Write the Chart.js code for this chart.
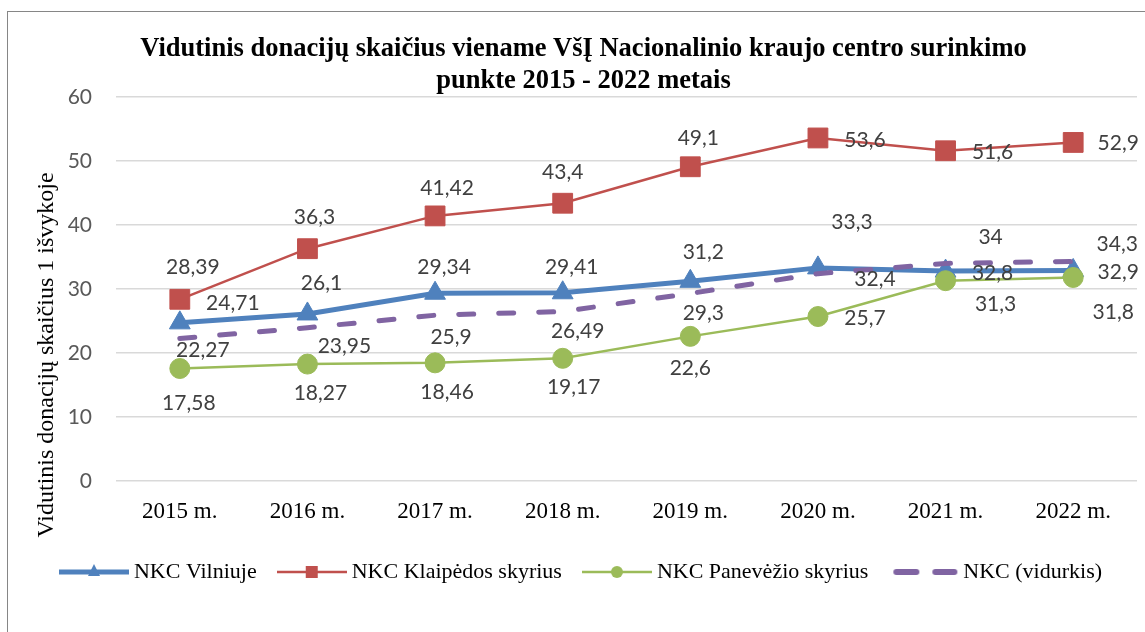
<!DOCTYPE html>
<html>
<head>
<meta charset="utf-8">
<script src="https://cdn.jsdelivr.net/npm/chart.js@4.4.0/dist/chart.umd.min.js"></script>
<style>
  body { margin: 0; background: #fff; overflow: hidden; }
  canvas { display: block; }
</style>
</head>
<body>
<canvas id="chart" width="1145" height="632"></canvas>
<script>
// chart data
const years = ['2015 m.', '2016 m.', '2017 m.', '2018 m.', '2019 m.', '2020 m.', '2021 m.', '2022 m.'];
const seriesNames = ['NKC Vilniuje', 'NKC Klaipėdos skyrius', 'NKC Panevėžio skyrius', 'NKC (vidurkis)'];
const vilnius = [24.71, 26.1, 29.34, 29.41, 31.2, 33.3, 32.8, 32.9];
const klaipeda = [28.39, 36.3, 41.42, 43.4, 49.1, 53.6, 51.6, 52.9];
const panevezys = [17.58, 18.27, 18.46, 19.17, 22.6, 25.7, 31.3, 31.8];
const vidurkis = [22.27, 23.95, 25.9, 26.49, 29.3, 32.4, 34, 34.3];
const yTicks = [0, 10, 20, 30, 40, 50, 60];

// where each value label sits relative to its point (dx, dy in px)
const labelOffsets = [
    [[53, -20], [14, -31], [9, -26], [9, -26], [13, -29], [34, -46], [47, 2], [45, 2]],
    [[13, -32], [7, -31], [12, -28], [0, -31], [8, -29], [47, 2], [47, 1], [45, 1]],
    [[9, 35], [13, 29], [12, 29], [11, 29], [0, 32], [47, 2], [50, 24], [40, 35]],
    [[23, 12], [37, 19], [16, 22], [15, 20], [13, 20], [57, 6], [45, -26], [44, -17]]
];

const colors = ['#4F81BD', '#C0504D', '#9BBB59', '#8064A2'];

function fmt(v) {
    return String(v).replace('.', ',');
}

function legendSymbol(idx) {   // small line + marker picture for the legend
    const c = document.createElement('canvas');
    c.width = 70; c.height = 24;
    const g = c.getContext('2d');
    const col = colors[idx];
    g.strokeStyle = col; g.fillStyle = col;
    if (idx === 3) {
        g.lineWidth = 6; g.lineCap = 'round';
        g.beginPath(); g.moveTo(8, 12); g.lineTo(28, 12); g.stroke();
        g.beginPath(); g.moveTo(47, 12); g.lineTo(66, 12); g.stroke();
        return c;
    }
    g.lineWidth = idx === 0 ? 5 : 2.5;
    g.beginPath(); g.moveTo(0, 12); g.lineTo(70, 12); g.stroke();
    g.beginPath();
    if (idx === 0) {
        g.moveTo(35, 4); g.lineTo(41, 16); g.lineTo(29, 16); g.closePath();
    } else if (idx === 1) {
        g.rect(29, 6, 12, 12);
    } else {
        g.arc(35, 12, 6, 0, Math.PI * 2);
    }
    g.fill();
    return c;
}

const valueLabels = {
    id: 'valueLabels',
    afterDatasetsDraw(chart) {
        const ctx = chart.ctx;
        ctx.save();
        ctx.font = '21px Lato';
        ctx.fillStyle = '#404040';
        ctx.textAlign = 'center';
        ctx.textBaseline = 'middle';
        chart.data.datasets.forEach((ds, i) => {
            const meta = chart.getDatasetMeta(i);
            meta.data.forEach((pt, j) => {
                const off = labelOffsets[i][j];
                ctx.fillText(fmt(ds.data[j]), pt.x + off[0], pt.y + off[1]);
            });
        });
        ctx.restore();
    }
};

const frameAndTitle = {
    id: 'frameAndTitle',
    beforeDraw(chart) {
        const ctx = chart.ctx;
        ctx.save();
        ctx.fillStyle = '#fff';
        ctx.fillRect(0, 0, chart.width, chart.height);
        ctx.strokeStyle = '#868686';
        ctx.lineWidth = 1;
        ctx.strokeRect(7.5, 11.5, 1300, 800);
        ctx.restore();
    },
    afterDraw(chart) {   // y axis title, placed as in the original
        const ctx = chart.ctx;
        ctx.save();
        ctx.translate(47, 355);
        ctx.rotate(-Math.PI / 2);
        ctx.font = '24px "Liberation Serif"';
        ctx.fillStyle = '#000';
        ctx.textAlign = 'center';
        ctx.textBaseline = 'middle';
        ctx.fillText('Vidutinis donacijų skaičius 1 išvykoje', 0, 0);
        ctx.restore();
    }
};

window.initializeChart = function(ctx) {
    return new Chart(ctx, {
        type: 'line',
        data: {
            labels: years,
            datasets: [{
                label: seriesNames[0],
                data: vilnius,
                order: 4,
                borderColor: colors[0],
                backgroundColor: colors[0],
                borderWidth: 5,
                pointStyle: 'triangle',
                pointRadius: 12,
                pointBorderWidth: 1,
                pointBackgroundColor: colors[0],
                pointBorderColor: colors[0]
            }, {
                label: seriesNames[1],
                data: klaipeda,
                order: 3,
                borderColor: colors[1],
                backgroundColor: colors[1],
                borderWidth: 2.5,
                pointStyle: 'rect',
                pointRadius: 14,
                pointBorderWidth: 1,
                pointBackgroundColor: colors[1],
                pointBorderColor: colors[1]
            }, {
                label: seriesNames[2],
                data: panevezys,
                order: 2,
                borderColor: colors[2],
                backgroundColor: colors[2],
                borderWidth: 2.5,
                pointStyle: 'circle',
                pointRadius: 10,
                pointBorderWidth: 1,
                pointBackgroundColor: colors[2],
                pointBorderColor: colors[2]
            }, {
                label: seriesNames[3],
                data: vidurkis,
                order: 1,
                borderColor: colors[3],
                backgroundColor: colors[3],
                borderWidth: 5,
                borderDash: [15, 25],
                borderCapStyle: 'round',
                pointRadius: 0
            }]
        },
        options: {
            responsive: false,
            animation: false,
            events: [],
            layout: { autoPadding: false, padding: { left: 30, right: 8, top: 0, bottom: 39 } },
            plugins: {
                title: {
                    display: true,
                    text: ['Vidutinis donacijų skaičius viename VšĮ Nacionalinio kraujo centro surinkimo',
                           'punkte 2015 - 2022 metais'],
                    color: '#000',
                    font: { family: '"Liberation Serif"', size: 26.5, weight: 'bold', lineHeight: '32px' },
                    padding: { top: 33, bottom: 0 }
                },
                legend: {
                    position: 'bottom',
                    labels: {
                        usePointStyle: true,
                        pointStyleWidth: 58,
                        padding: 26,
                        color: '#000',
                        font: { family: '"Liberation Serif"', size: 22 },
                        generateLabels: function() {
                            return seriesNames.map((name, i) => ({
                                text: name,
                                pointStyle: legendSymbol(i),
                                fillStyle: colors[i],
                                strokeStyle: colors[i],
                                lineWidth: 0,
                                fontColor: '#000',
                                datasetIndex: i,
                                hidden: false
                            }));
                        }
                    }
                },
                tooltip: { enabled: false }
            },
            scales: {
                x: {
                    offset: true,
                    grid: { display: false },
                    border: { display: false },
                    ticks: {
                        color: '#000',
                        padding: 9,
                        font: { family: '"Liberation Serif"', size: 23 }
                    },
                    afterFit: function(scale) { scale.height = 54; }
                },
                y: {
                    min: yTicks[0],
                    max: yTicks[yTicks.length - 1],
                    grid: { color: '#d9d9d9', lineWidth: 1.5, drawTicks: false },
                    border: { display: false },
                    afterBuildTicks: function(scale) {
                        scale.ticks = yTicks.map(v => ({ value: v }));
                    },
                    ticks: {
                        color: '#595959',
                        padding: 24,
                        font: { family: 'Lato', size: 21 }
                    },
                    afterFit: function(scale) { scale.width = 86; }
                }
            }
        },
        plugins: [frameAndTitle, valueLabels]
    });
}

let breakdownChart = window.initializeChart(document.getElementById('chart'));
</script>
</body>
</html>
